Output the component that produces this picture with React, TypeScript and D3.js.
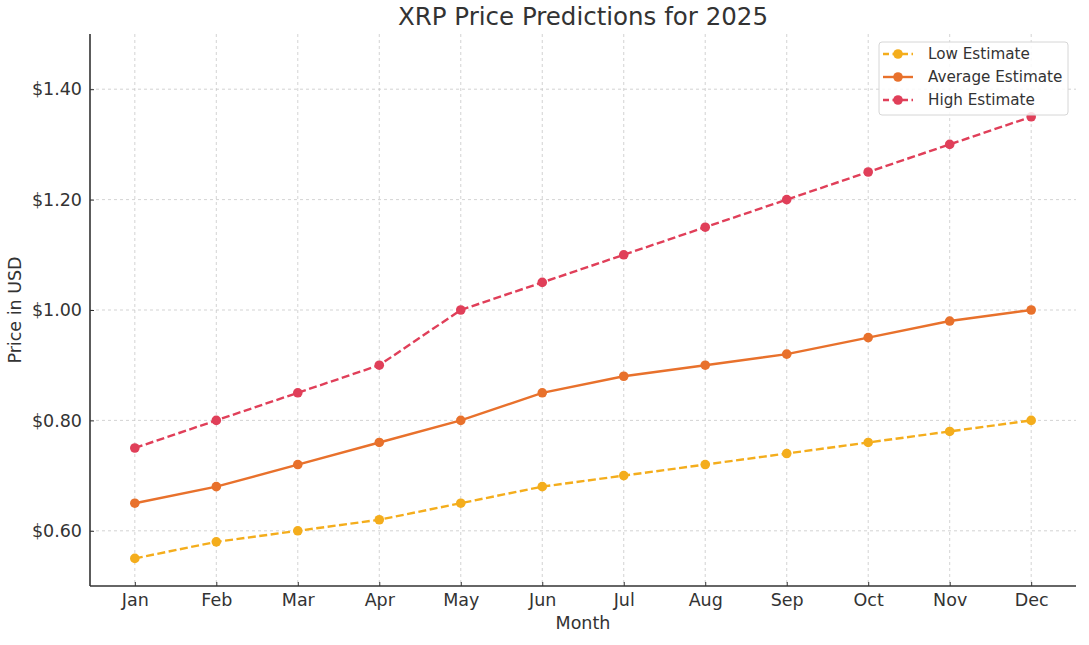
import React, { useRef, useEffect } from 'react';
import * as d3 from 'd3';

const months = ['Jan', 'Feb', 'Mar', 'Apr', 'May', 'Jun', 'Jul', 'Aug', 'Sep', 'Oct', 'Nov', 'Dec'];
const lowEstimate = [0.55, 0.58, 0.6, 0.62, 0.65, 0.68, 0.7, 0.72, 0.74, 0.76, 0.78, 0.8];
const averageEstimate = [0.65, 0.68, 0.72, 0.76, 0.8, 0.85, 0.88, 0.9, 0.92, 0.95, 0.98, 1.0];
const highEstimate = [0.75, 0.8, 0.85, 0.9, 1.0, 1.05, 1.1, 1.15, 1.2, 1.25, 1.3, 1.35];
const yTicks = [0.6, 0.8, 1.0, 1.2, 1.4];

const series = [
  { name: 'Low Estimate', values: lowEstimate, color: '#f4ad1c', dash: '8,3.5' },
  { name: 'Average Estimate', values: averageEstimate, color: '#e8712c', dash: null },
  { name: 'High Estimate', values: highEstimate, color: '#e03f59', dash: '8,3.5' },
];

const width = 1089;
const height = 645;
const font = 'DejaVu Sans, sans-serif';
const textColor = '#333333';

export default function App() {
  const svgRef = useRef<SVGSVGElement>(null);

  useEffect(() => {
    if (!svgRef.current) return;
    const svg = d3.select(svgRef.current);
    svg.selectAll('*').remove();

    const margin = { top: 34, right: 13, bottom: 59, left: 90 };
    const innerWidth = width - margin.left - margin.right;
    const innerHeight = height - margin.top - margin.bottom;

    const g = svg.append('g').attr('transform', `translate(${margin.left},${margin.top})`);

    // matplotlib-style 5% margins on the month index
    const xScale = d3.scaleLinear()
      .domain([-0.55, months.length - 1 + 0.55])
      .range([0, innerWidth]);

    const yScale = d3.scaleLinear()
      .domain([0.5, 1.5])
      .range([innerHeight, 0]);

    // Grid
    g.append('g')
      .selectAll('line')
      .data(months)
      .enter().append('line')
      .attr('x1', (_, i) => xScale(i))
      .attr('x2', (_, i) => xScale(i))
      .attr('y1', 0)
      .attr('y2', innerHeight)
      .attr('stroke', '#c8c8c8')
      .attr('stroke-width', 0.8)
      .attr('stroke-dasharray', '3,3');

    g.append('g')
      .selectAll('line')
      .data(yTicks)
      .enter().append('line')
      .attr('x1', 0)
      .attr('x2', innerWidth)
      .attr('y1', d => yScale(d))
      .attr('y2', d => yScale(d))
      .attr('stroke', '#c8c8c8')
      .attr('stroke-width', 0.8)
      .attr('stroke-dasharray', '3,3');

    // X axis
    const xAxis = g.append('g')
      .attr('transform', `translate(0,${innerHeight})`)
      .call(d3.axisBottom(xScale)
        .tickValues(d3.range(months.length))
        .tickFormat(i => months[i as number])
        .tickSizeInner(-4)
        .tickSizeOuter(0)
        .tickPadding(8));
    xAxis.select('.domain').remove();
    xAxis.selectAll('line').attr('stroke', textColor);
    xAxis.selectAll('text')
      .style('font-family', font)
      .style('font-size', '17.5px')
      .style('fill', textColor);

    // Y axis
    const yAxis = g.append('g')
      .call(d3.axisLeft(yScale)
        .tickValues(yTicks)
        .tickFormat(d => `$${(d as number).toFixed(2)}`)
        .tickSizeInner(-4)
        .tickSizeOuter(0)
        .tickPadding(8));
    yAxis.select('.domain').remove();
    yAxis.selectAll('line').attr('stroke', textColor);
    yAxis.selectAll('text')
      .style('font-family', font)
      .style('font-size', '17.5px')
      .style('fill', textColor);

    // Spines (left and bottom only)
    g.append('line')
      .attr('x1', 0).attr('x2', 0)
      .attr('y1', 0).attr('y2', innerHeight)
      .attr('stroke', textColor).attr('stroke-width', 1.6);
    g.append('line')
      .attr('x1', 0).attr('x2', innerWidth)
      .attr('y1', innerHeight).attr('y2', innerHeight)
      .attr('stroke', textColor).attr('stroke-width', 1.6);

    // Lines and markers
    const line = d3.line<number>()
      .x((_, i) => xScale(i))
      .y(d => yScale(d));

    series.forEach(s => {
      g.append('path')
        .datum(s.values)
        .attr('fill', 'none')
        .attr('stroke', s.color)
        .attr('stroke-width', 2.4)
        .attr('stroke-dasharray', s.dash)
        .attr('d', line);

      g.append('g')
        .selectAll('circle')
        .data(s.values)
        .enter().append('circle')
        .attr('cx', (_, i) => xScale(i))
        .attr('cy', d => yScale(d))
        .attr('r', 4.8)
        .attr('fill', s.color);
    });

    // Legend
    const legend = g.append('g').attr('transform', `translate(${innerWidth - 197},8)`);
    legend.append('rect')
      .attr('width', 189)
      .attr('height', 73)
      .attr('rx', 3)
      .attr('fill', 'white')
      .attr('fill-opacity', 0.85)
      .attr('stroke', '#d6d6d6');

    series.forEach((s, i) => {
      const row = legend.append('g').attr('transform', `translate(0,${12 + i * 23})`);
      row.append('line')
        .attr('x1', 4).attr('x2', 34)
        .attr('y1', 0).attr('y2', 0)
        .attr('stroke', s.color)
        .attr('stroke-width', 2.4)
        .attr('stroke-dasharray', s.dash ? '6,3.5' : null);
      row.append('circle')
        .attr('cx', 19).attr('cy', 0).attr('r', 4.8)
        .attr('fill', s.color);
      row.append('text')
        .attr('x', 49)
        .attr('y', 0)
        .attr('dy', '0.35em')
        .style('font-family', font)
        .style('font-size', '15.2px')
        .style('fill', textColor)
        .text(s.name);
    });

    // Title and axis labels
    svg.append('text')
      .attr('x', margin.left + innerWidth / 2)
      .attr('y', 25)
      .attr('text-anchor', 'middle')
      .style('font-family', font)
      .style('font-size', '24.5px')
      .style('fill', textColor)
      .text('XRP Price Predictions for 2025');

    svg.append('text')
      .attr('x', margin.left + innerWidth / 2)
      .attr('y', 629)
      .attr('text-anchor', 'middle')
      .style('font-family', font)
      .style('font-size', '17.5px')
      .style('fill', textColor)
      .text('Month');

    svg.append('text')
      .attr('transform', `translate(21,${margin.top + innerHeight / 2}) rotate(-90)`)
      .attr('text-anchor', 'middle')
      .style('font-family', font)
      .style('font-size', '17.5px')
      .style('fill', textColor)
      .text('Price in USD');
  }, []);

  return (
    <svg
      ref={svgRef}
      width={width}
      height={height}
      style={{ position: 'absolute', left: 0, top: 0, background: 'white' }}
    />
  );
}
